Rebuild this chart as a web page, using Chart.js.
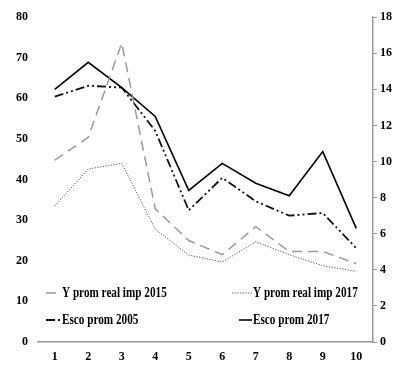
<!DOCTYPE html>
<html>
<head>
<meta charset="utf-8">
<script src="https://cdn.jsdelivr.net/npm/chart.js@4"></script>
<style>
  body { margin: 0; background: #fff; }
</style>
</head>
<body>
<canvas id="myChart" width="399" height="372"></canvas>
<script>
const categories = ['1', '2', '3', '4', '5', '6', '7', '8', '9', '10'];
const yImp2015 = [44.8, 50.4, 73.6, 32.8, 25.0, 21.5, 28.4, 22.3, 22.3, 19.3];
const yImp2017 = [33.5, 42.6, 44.0, 27.8, 21.4, 19.7, 24.7, 21.5, 18.8, 17.4];
const esco2005 = [13.6, 14.2, 14.1, 11.7, 7.3, 9.1, 7.8, 7.0, 7.15, 5.2];
const esco2017 = [14.0, 15.5, 14.1, 12.5, 8.4, 9.9, 8.8, 8.1, 10.55, 6.3];

const tickFont = { family: 'Liberation Serif', size: 12, weight: 'bold' };

// legend drawn by hand in two columns inside the plot, like the original
const legendInside = {
    id: 'legendInside',
    afterDraw(chart) {
        const ctx = chart.ctx;
        const a = chart.chartArea;
        const cols = [a.left + 8, a.left + 199];
        const rows = [a.bottom - 49, a.bottom - 22];
        const items = chart.data.datasets.map((ds, i) => ({
            ds: ds,
            x: cols[i % 2],
            y: rows[Math.floor(i / 2)]
        }));
        ctx.save();
        items.forEach(it => {
            const ds = it.ds;
            const sampleW = it.ds.legendSample || 15;
            ctx.strokeStyle = ds.borderColor;
            ctx.lineWidth = ds.borderWidth;
            ctx.setLineDash(ds.borderDash || []);
            ctx.beginPath();
            ctx.moveTo(it.x + 15 - sampleW, it.y);
            ctx.lineTo(it.x + 15, it.y);
            ctx.stroke();
            ctx.setLineDash([]);
            ctx.fillStyle = '#000';
            ctx.font = 'bold 14px "Liberation Serif"';
            ctx.textBaseline = 'middle';
            ctx.save();
            ctx.translate(it.x + 16, it.y);
            ctx.scale(0.8, 1);
            ctx.fillText(ds.label, 0, 0);
            ctx.restore();
        });
        ctx.restore();
    }
};

new Chart(document.getElementById('myChart').getContext('2d'), {
    type: 'line',
    data: {
        labels: categories,
        datasets: [
            {
                label: 'Y prom real imp 2015',
                data: yImp2015,
                yAxisID: 'y',
                borderColor: '#999',
                borderWidth: 1.5,
                borderDash: [10, 6]
            },
            {
                label: 'Y prom real imp 2017',
                data: yImp2017,
                yAxisID: 'y',
                borderColor: '#555',
                borderWidth: 1,
                borderDash: [1.2, 1.5],
                legendSample: 20
            },
            {
                label: 'Esco prom 2005',
                data: esco2005,
                yAxisID: 'y1',
                borderColor: '#111',
                borderWidth: 1.8,
                borderDash: [9, 3, 2, 3, 2, 3]
            },
            {
                label: 'Esco prom 2017',
                data: esco2017,
                yAxisID: 'y1',
                borderColor: '#000',
                borderWidth: 1.6,
                legendSample: 13
            }
        ]
    },
    options: {
        responsive: false,
        animation: false,
        layout: { padding: { top: 15, right: 0, left: 0, bottom: 0 } },
        elements: { point: { radius: 0 }, line: { tension: 0 } },
        plugins: { legend: { display: false }, tooltip: { enabled: false } },
        scales: {
            x: {
                offset: true,
                grid: { display: false, tickLength: 0 },
                border: { color: '#999', width: 1.5 },
                ticks: { color: '#000', font: tickFont, padding: 8 },
                afterFit: s => { s.height = 30; }
            },
            y: {
                position: 'left',
                min: 0,
                max: 80,
                grid: { display: false, tickLength: 0 },
                border: { display: false },
                ticks: { stepSize: 10, color: '#000', font: tickFont, padding: 10 },
                afterFit: s => { s.width = 38; }
            },
            y1: {
                position: 'right',
                min: 0,
                max: 18,
                grid: { drawOnChartArea: false, tickLength: 4, color: '#999' },
                border: { color: '#999', width: 1.5 },
                ticks: { stepSize: 2, color: '#000', font: tickFont, padding: 3 },
                afterFit: s => { s.width = 26; }
            }
        }
    },
    plugins: [legendInside]
});
</script>
</body>
</html>
